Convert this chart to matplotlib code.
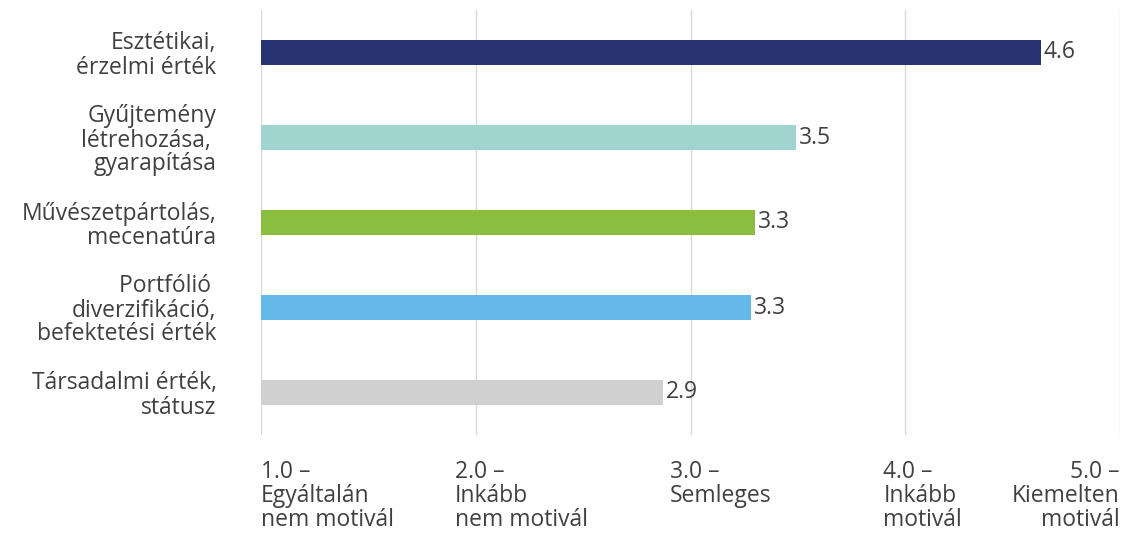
import matplotlib.pyplot as plt
import matplotlib.transforms as mtransforms

plt.rcParams['font.family'] = ['Open Sans', 'DejaVu Sans']

categories = [
    "Esztétikai,\nérzelmi érték",
    "Gyűjtemény\nlétrehozása, \ngyarapítása",
    "Művészetpártolás,\nmecenatúra",
    "Portfólió \ndiverzifikáció,\nbefektetési érték",
    "Társadalmi érték,\nstátusz",
]
values = [4.63, 3.49, 3.30, 3.28, 2.87]
colors = ["#283374", "#9fd4cf", "#8bbd3f", "#65b9e8", "#d0d0d0"]

tick_values = [1.0, 2.0, 3.0, 4.0, 5.0]
tick_labels = [
    "1.0 –\nEgyáltalán\nnem motivál",
    "2.0 –\nInkább\nnem motivál",
    "3.0 –\nSemleges",
    "4.0 –\nInkább\nmotivál",
    "5.0 –\nKiemelten\nmotivál",
]

text_color = "#404040"
fs = 16.5

fig = plt.figure(figsize=(11.4, 5.34), dpi=100)
ax = fig.add_axes([261 / 1140, 1 - 435 / 534, (1120 - 261) / 1140, 425 / 534])

y = list(range(len(categories)))
ax.barh(y, [v - 1 for v in values], left=1, height=0.3, color=colors, zorder=3)

for yi, v in zip(y, values):
    ax.text(v + 0.015, yi, f"{v:.1f}", va="center", ha="left",
            fontsize=fs, color=text_color, zorder=4)

ax.set_xlim(1, 5)
ax.set_ylim(len(categories) - 0.5, -0.5)

ax.set_yticks(y)
ax.set_yticklabels(categories, fontsize=fs, color=text_color,
                   ha="right", multialignment="right", linespacing=1.0)
ax.tick_params(axis="y", length=0, pad=32)

ax.set_xticks(tick_values)
ax.set_xticklabels(tick_labels, fontsize=fs, color=text_color, linespacing=1.0)
ax.tick_params(axis="x", length=0, pad=18)

# per-tick horizontal alignment like the source
offsets = [0, -21, -21, -22, 0]
for i, (lbl, dx) in enumerate(zip(ax.get_xticklabels(), offsets)):
    if i == 4:
        lbl.set_ha("right")
        lbl.set_multialignment("right")
    else:
        lbl.set_ha("left")
        lbl.set_multialignment("left")
    lbl.set_transform(lbl.get_transform() +
                      mtransforms.ScaledTranslation(dx / 100, 0, fig.dpi_scale_trans))

ax.grid(axis="x", color="#d9d9d9", linewidth=1, zorder=0)
for s in ax.spines.values():
    s.set_visible(False)

fig.savefig("out.png", dpi=100)
